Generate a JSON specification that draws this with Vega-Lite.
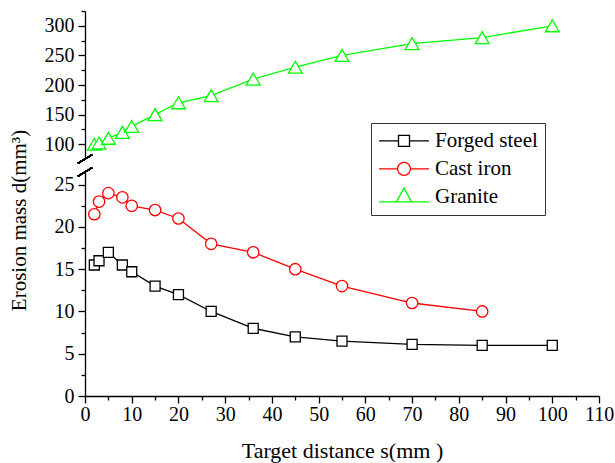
{
  "$schema": "https://vega.github.io/schema/vega-lite/v6.json",
  "autosize": "none",
  "width": 514,
  "height": 385,
  "padding": {"left": 85, "top": 11, "right": 16, "bottom": 67},
  "background": "white",
  "config": {
    "view": {"stroke": null},
    "axis": {
      "labelFont": "Liberation Serif", "titleFont": "Liberation Serif",
      "labelColor": "black", "titleColor": "black", "domainColor": "black", "tickColor": "black",
      "grid": false, "labelFontSize": 20, "titleFontSize": 21, "titleFontWeight": "normal",
      "domainWidth": 1.3, "tickWidth": 1.3, "labelFlush": false, "labelOverlap": false, "labelBound": false
    }
  },
  "data": {"values": [
      {"series": "Forged steel", "s": 2, "m": 15.5},
      {"series": "Forged steel", "s": 3, "m": 16},
      {"series": "Forged steel", "s": 5, "m": 17},
      {"series": "Forged steel", "s": 8, "m": 15.5},
      {"series": "Forged steel", "s": 10, "m": 14.7},
      {"series": "Forged steel", "s": 15, "m": 13},
      {"series": "Forged steel", "s": 20, "m": 12},
      {"series": "Forged steel", "s": 27, "m": 10},
      {"series": "Forged steel", "s": 36, "m": 8},
      {"series": "Forged steel", "s": 45, "m": 7},
      {"series": "Forged steel", "s": 55, "m": 6.5},
      {"series": "Forged steel", "s": 70, "m": 6.1},
      {"series": "Forged steel", "s": 85, "m": 6},
      {"series": "Forged steel", "s": 100, "m": 6},
      {"series": "Cast iron", "s": 2, "m": 21.5},
      {"series": "Cast iron", "s": 3, "m": 23},
      {"series": "Cast iron", "s": 5, "m": 24},
      {"series": "Cast iron", "s": 8, "m": 23.5},
      {"series": "Cast iron", "s": 10, "m": 22.5},
      {"series": "Cast iron", "s": 15, "m": 22},
      {"series": "Cast iron", "s": 20, "m": 21},
      {"series": "Cast iron", "s": 27, "m": 18},
      {"series": "Cast iron", "s": 36, "m": 17},
      {"series": "Cast iron", "s": 45, "m": 15},
      {"series": "Cast iron", "s": 55, "m": 13},
      {"series": "Cast iron", "s": 70, "m": 11},
      {"series": "Cast iron", "s": 85, "m": 10},
      {"series": "Granite", "s": 2, "m": 100},
      {"series": "Granite", "s": 3, "m": 102},
      {"series": "Granite", "s": 5, "m": 110},
      {"series": "Granite", "s": 8, "m": 120},
      {"series": "Granite", "s": 10, "m": 130},
      {"series": "Granite", "s": 15, "m": 150},
      {"series": "Granite", "s": 20, "m": 170},
      {"series": "Granite", "s": 27, "m": 182},
      {"series": "Granite", "s": 36, "m": 210},
      {"series": "Granite", "s": 45, "m": 230},
      {"series": "Granite", "s": 55, "m": 250},
      {"series": "Granite", "s": 70, "m": 270},
      {"series": "Granite", "s": 85, "m": 280},
      {"series": "Granite", "s": 100, "m": 300}
  ]},
  "encoding": {
    "x": {"field": "s", "type": "quantitative", "scale": {"domain": [0, 110], "nice": false},
      "axis": {"title": "Target distance s(mm )", "values": [0, 5, 10, 15, 20, 25, 30, 35, 40, 45, 50, 55, 60, 65, 70, 75, 80, 85, 90, 95, 100, 105, 110],
        "labelExpr": "datum.value % 10 === 0 ? datum.label : ''",
        "tickSize": {"condition": {"test": "datum.value % 10 === 0", "value": 7}, "value": 4},
        "labelPadding": 1, "titleY": 61, "titleBaseline": "alphabetic", "titleFontSize": 22}},
    "y": {"field": "m", "type": "quantitative",
      "scale": {"domain": [0, 26.5, 75, 325], "range": [385, 161, 148, 0], "nice": false, "zero": false},
      "axis": {"title": "Erosion mass d(mm³)",
        "values": [0, 2.5, 5, 7.5, 10, 12.5, 15, 17.5, 20, 22.5, 25, 100, 125, 150, 175, 200, 225, 250, 275, 300, 325],
        "labelExpr": "(datum.value <= 25 && datum.value % 5 === 0) || (datum.value > 25 && datum.value % 50 === 0) ? datum.label : ''",
        "tickSize": {"condition": {"test": "(datum.value <= 25 && datum.value % 5 === 0) || (datum.value > 25 && datum.value % 50 === 0)", "value": 7}, "value": 4},
        "domainDash": [224, 13, 400],
        "labelPadding": 4, "titleX": -60, "titleY": 209, "titleBaseline": "alphabetic"}}
  },
  "layer": [
    {"mark": {"type": "line", "strokeWidth": 1.3},
     "encoding": {"color": {"field": "series", "type": "nominal",
       "scale": {"domain": ["Forged steel", "Cast iron", "Granite"], "range": ["black", "red", "#00FF00"]},
       "legend": {"title": null, "orient": "none", "legendX": 286, "legendY": 112,
         "strokeColor": "#333", "fillColor": "white", "padding": 7,
         "labelFont": "Liberation Serif", "labelFontSize": 21, "labelColor": "black", "labelLimit": 0, "labelOffset": 5,
         "symbolSize": 2500, "rowPadding": 5, "clipHeight": 21.7,
         "encode": {"symbols": {"update": {
           "shape": {"signal": "datum.value === 'Forged steel' ? 'M-1,0H-0.22M0.22,0H1M-0.22,-0.22H0.22V0.22H-0.22Z' : datum.value === 'Cast iron' ? 'M-1,0H-0.26M0.26,0H1M0.26,0A0.26,0.26 0 1,1 -0.26,0A0.26,0.26 0 1,1 0.26,0Z' : 'M-1,0.2H-0.3M0.3,0.2H1M0,-0.36L0.3,0.2L-0.3,0.2Z'"},
           "stroke": {"signal": "datum.value === 'Forged steel' ? 'black' : datum.value === 'Cast iron' ? 'red' : '#00FF00'"},
           "fill": {"value": "white"},
           "strokeWidth": {"value": 1.3},
           "opacity": {"value": 1}
         }}}}}}},
    {"transform": [{"filter": "datum.series === 'Forged steel'"}],
     "mark": {"type": "point", "shape": "square", "filled": false, "fill": "white", "size": 100, "strokeWidth": 1.3, "opacity": 1},
     "encoding": {"color": {"field": "series", "type": "nominal"}}},
    {"transform": [{"filter": "datum.series === 'Cast iron'"}],
     "mark": {"type": "point", "shape": "circle", "filled": false, "fill": "white", "size": 130, "strokeWidth": 1.3, "opacity": 1},
     "encoding": {"color": {"field": "series", "type": "nominal"}}},
    {"transform": [{"filter": "datum.series === 'Granite'"}],
     "mark": {"type": "point", "shape": "triangle-up", "filled": false, "fill": "white", "size": 190, "strokeWidth": 1.3, "opacity": 1},
     "encoding": {"color": {"field": "series", "type": "nominal"}}},
    {"mark": {"type": "point", "shape": "M-1,0.6L1,-0.6", "filled": false, "stroke": "black", "strokeWidth": 1.3, "size": 196, "clip": false, "opacity": 1},
     "encoding": {"x": {"datum": 0, "type": "quantitative"}, "y": {"datum": 75, "type": "quantitative"}}},
    {"mark": {"type": "point", "shape": "M-1,0.6L1,-0.6", "filled": false, "stroke": "black", "strokeWidth": 1.3, "size": 196, "clip": false, "opacity": 1},
     "encoding": {"x": {"datum": 0, "type": "quantitative"}, "y": {"datum": 26.5, "type": "quantitative"}}}
  ]
}
